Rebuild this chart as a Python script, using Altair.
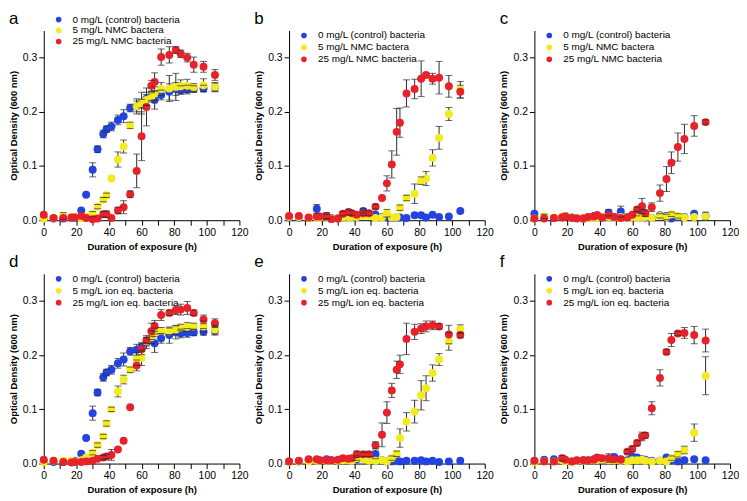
import altair as alt
import pandas as pd

# ---------------- data ----------------
hours = [0, 6, 12, 17, 19, 23, 26, 30, 33, 36.5, 38.5, 41.5, 45.5, 49, 53, 57,
         60, 63, 66, 68, 72, 77, 81, 84, 88, 92, 98, 105]

labels_nmc = ["0 mg/L (control) bacteria", "5 mg/L NMC bactera", "25 mg/L NMC bacteria"]
labels_ion = ["0 mg/L (control) bacteria", "5 mg/L ion eq. bacteria", "25 mg/L ion eq. bacteria"]
colors = ["#2343e0", "#f3ea1f", "#e8222a"]
panel_letters = ["a", "b", "c", "d", "e", "f"]

# panel a
a_ctrl = [0.004, 0.003, 0.003, 0.004, 0.005, 0.018, 0.047, 0.093, 0.131, 0.159, 0.168, 0.173, 0.185, 0.192, 0.207, 0.210, 0.215, 0.224, 0.228, 0.222, 0.231, 0.237, 0.242, 0.240, 0.241, 0.242, 0.243, 0.245]
a_ctrl_err = [0.002, 0.002, 0.002, 0.002, 0.002, 0.003, 0.003, 0.013, 0.006, 0.007, 0.006, 0.008, 0.009, 0.012, 0.007, 0.010, 0.008, 0.012, 0.007, 0.017, 0.009, 0.015, 0.012, 0.008, 0.008, 0.006, 0.006, 0.008]
a_low = [0.003, 0.004, 0.008, 0.005, 0.006, 0.004, 0.006, 0.011, 0.025, 0.038, 0.046, 0.077, 0.112, 0.136, 0.175, 0.210, 0.216, 0.222, 0.228, 0.234, 0.242, 0.243, 0.246, 0.247, 0.248, 0.245, 0.249, 0.246]
a_low_err = [0.002, 0.002, 0.006, 0.003, 0.003, 0.003, 0.003, 0.005, 0.004, 0.004, 0.004, 0.003, 0.014, 0.012, 0.006, 0.014, 0.020, 0.010, 0.010, 0.012, 0.012, 0.024, 0.025, 0.012, 0.012, 0.007, 0.012, 0.008]
a_high = [0.010, 0.004, 0.004, 0.005, 0.005, 0.008, 0.004, 0.002, 0.003, 0.011, 0.011, 0.004, 0.018, 0.024, 0.048, 0.091, 0.155, 0.209, 0.248, 0.255, 0.301, 0.305, 0.314, 0.307, 0.300, 0.287, 0.283, 0.268]
a_high_err = [0.002, 0.002, 0.002, 0.002, 0.003, 0.003, 0.002, 0.002, 0.002, 0.005, 0.006, 0.003, 0.006, 0.012, 0.006, 0.031, 0.045, 0.035, 0.010, 0.017, 0.015, 0.015, 0.006, 0.007, 0.008, 0.014, 0.010, 0.010]

# panel b
b_ctrl = [0.005, 0.005, 0.004, 0.021, 0.006, 0.008, 0.004, 0.003, 0.005, 0.008, 0.008, 0.006, 0.017, 0.012, 0.010, 0.006, 0.005, 0.004, 0.005, 0.005, 0.004, 0.009, 0.009, 0.005, 0.010, 0.006, 0.007, 0.017]
b_ctrl_err = [0.003, 0.003, 0.003, 0.008, 0.003, 0.006, 0.002, 0.002, 0.003, 0.003, 0.003, 0.003, 0.004, 0.003, 0.003, 0.002, 0.002, 0.002, 0.002, 0.002, 0.002, 0.003, 0.003, 0.002, 0.003, 0.002, 0.002, 0.003]
b_low = [0.006, 0.006, 0.004, 0.005, 0.005, 0.006, 0.003, 0.003, 0.005, 0.006, 0.006, 0.006, 0.008, 0.008, 0.004, 0.005, 0.013, 0.005, 0.006, 0.023, 0.041, 0.049, 0.073, 0.077, 0.115, 0.152, 0.196, 0.241]
b_low_err = [0.003, 0.003, 0.003, 0.003, 0.003, 0.003, 0.002, 0.002, 0.003, 0.003, 0.003, 0.003, 0.003, 0.003, 0.002, 0.003, 0.007, 0.003, 0.003, 0.005, 0.005, 0.018, 0.007, 0.013, 0.015, 0.021, 0.012, 0.015]
b_high = [0.008, 0.008, 0.005, 0.007, 0.007, 0.007, 0.002, 0.003, 0.012, 0.015, 0.013, 0.010, 0.013, 0.013, 0.025, 0.041, 0.068, 0.103, 0.163, 0.180, 0.234, 0.242, 0.261, 0.268, 0.261, 0.263, 0.247, 0.237]
b_high_err = [0.003, 0.003, 0.003, 0.003, 0.003, 0.004, 0.002, 0.002, 0.004, 0.005, 0.004, 0.003, 0.004, 0.004, 0.004, 0.003, 0.014, 0.025, 0.043, 0.027, 0.025, 0.018, 0.033, 0.003, 0.010, 0.030, 0.020, 0.012]

# panel c
c_ctrl = [0.012, 0.005, 0.004, 0.006, 0.008, 0.005, 0.004, 0.003, 0.005, 0.008, 0.009, 0.005, 0.014, 0.006, 0.016, 0.006, 0.008, 0.012, 0.016, 0.005, 0.004, 0.009, 0.008, 0.003, 0.006, 0.006, 0.012, 0.008]
c_ctrl_err = [0.002, 0.003, 0.002, 0.003, 0.003, 0.002, 0.002, 0.002, 0.003, 0.003, 0.003, 0.003, 0.006, 0.003, 0.010, 0.003, 0.003, 0.004, 0.004, 0.003, 0.003, 0.003, 0.003, 0.002, 0.003, 0.003, 0.003, 0.003]
c_low = [0.003, 0.007, 0.005, 0.006, 0.008, 0.004, 0.004, 0.003, 0.004, 0.005, 0.005, 0.006, 0.006, 0.005, 0.006, 0.005, 0.006, 0.005, 0.006, 0.006, 0.004, 0.008, 0.006, 0.011, 0.008, 0.005, 0.006, 0.007]
c_low_err = [0.002, 0.004, 0.003, 0.003, 0.003, 0.003, 0.002, 0.002, 0.003, 0.003, 0.003, 0.003, 0.003, 0.003, 0.003, 0.003, 0.003, 0.003, 0.003, 0.003, 0.003, 0.004, 0.005, 0.004, 0.004, 0.003, 0.003, 0.008]
c_high = [0.003, 0.003, 0.004, 0.005, 0.007, 0.004, 0.003, 0.003, 0.006, 0.007, 0.009, 0.005, 0.009, 0.006, 0.004, 0.005, 0.010, 0.020, 0.026, 0.013, 0.024, 0.050, 0.076, 0.106, 0.135, 0.150, 0.174, 0.181]
c_high_err = [0.002, 0.002, 0.002, 0.002, 0.003, 0.002, 0.002, 0.002, 0.003, 0.003, 0.003, 0.003, 0.003, 0.003, 0.002, 0.003, 0.003, 0.004, 0.014, 0.006, 0.008, 0.015, 0.023, 0.020, 0.026, 0.027, 0.019, 0.004]

# panel d (control is the same series as in panel a)
d_ctrl = a_ctrl
d_ctrl_err = a_ctrl_err
d_low = [0.003, 0.005, 0.005, 0.005, 0.004, 0.006, 0.011, 0.020, 0.034, 0.050, 0.074, 0.100, 0.133, 0.155, 0.173, 0.193, 0.195, 0.225, 0.233, 0.242, 0.245, 0.244, 0.247, 0.251, 0.252, 0.253, 0.253, 0.247]
d_low_err = [0.002, 0.002, 0.002, 0.002, 0.002, 0.002, 0.003, 0.004, 0.004, 0.004, 0.005, 0.004, 0.010, 0.008, 0.005, 0.012, 0.014, 0.008, 0.012, 0.008, 0.006, 0.006, 0.008, 0.006, 0.008, 0.006, 0.010, 0.008]
d_high = [0.007, 0.005, 0.003, 0.002, 0.003, 0.003, 0.004, 0.005, 0.009, 0.011, 0.013, 0.016, 0.026, 0.042, 0.104, 0.181, 0.211, 0.227, 0.244, 0.254, 0.274, 0.278, 0.283, 0.284, 0.287, 0.278, 0.266, 0.259]
d_high_err = [0.002, 0.002, 0.002, 0.002, 0.002, 0.002, 0.002, 0.003, 0.003, 0.004, 0.004, 0.010, 0.003, 0.003, 0.003, 0.010, 0.010, 0.005, 0.015, 0.010, 0.010, 0.005, 0.008, 0.010, 0.012, 0.005, 0.008, 0.008]

# panel e
e_ctrl = [0.004, 0.004, 0.006, 0.006, 0.005, 0.008, 0.006, 0.005, 0.007, 0.007, 0.006, 0.008, 0.010, 0.012, 0.017, 0.006, 0.004, 0.004, 0.005, 0.004, 0.005, 0.005, 0.006, 0.004, 0.005, 0.003, 0.004, 0.005]
e_ctrl_err = [0.002, 0.002, 0.003, 0.003, 0.002, 0.003, 0.002, 0.002, 0.003, 0.003, 0.003, 0.003, 0.003, 0.003, 0.008, 0.002, 0.002, 0.002, 0.002, 0.002, 0.002, 0.002, 0.002, 0.002, 0.002, 0.002, 0.002, 0.002]
e_low = [0.003, 0.004, 0.004, 0.005, 0.005, 0.005, 0.005, 0.005, 0.006, 0.006, 0.005, 0.010, 0.008, 0.005, 0.005, 0.006, 0.004, 0.010, 0.018, 0.047, 0.077, 0.096, 0.126, 0.139, 0.167, 0.192, 0.225, 0.248]
e_low_err = [0.002, 0.002, 0.002, 0.003, 0.003, 0.003, 0.002, 0.002, 0.003, 0.003, 0.003, 0.004, 0.003, 0.003, 0.003, 0.003, 0.003, 0.004, 0.005, 0.017, 0.017, 0.021, 0.027, 0.023, 0.015, 0.011, 0.016, 0.008]
e_high = [0.004, 0.005, 0.008, 0.008, 0.006, 0.006, 0.006, 0.007, 0.010, 0.009, 0.010, 0.017, 0.017, 0.017, 0.034, 0.053, 0.094, 0.135, 0.173, 0.183, 0.230, 0.243, 0.249, 0.253, 0.255, 0.253, 0.238, 0.237]
e_high_err = [0.002, 0.002, 0.002, 0.003, 0.003, 0.003, 0.003, 0.003, 0.003, 0.003, 0.003, 0.006, 0.004, 0.004, 0.006, 0.022, 0.020, 0.013, 0.016, 0.017, 0.029, 0.014, 0.009, 0.010, 0.008, 0.005, 0.017, 0.005]

# panel f
f_ctrl = [0.004, 0.007, 0.008, 0.006, 0.005, 0.004, 0.005, 0.006, 0.006, 0.008, 0.010, 0.009, 0.008, 0.012, 0.008, 0.006, 0.013, 0.011, 0.008, 0.007, 0.005, 0.005, 0.011, 0.006, 0.004, 0.006, 0.008, 0.006]
f_ctrl_err = [0.002, 0.002, 0.002, 0.002, 0.002, 0.002, 0.002, 0.002, 0.002, 0.003, 0.003, 0.003, 0.003, 0.003, 0.003, 0.002, 0.002, 0.002, 0.002, 0.002, 0.002, 0.002, 0.002, 0.002, 0.002, 0.002, 0.002, 0.002]
f_low = [0.003, 0.004, 0.004, 0.006, 0.004, 0.004, 0.005, 0.005, 0.006, 0.006, 0.007, 0.008, 0.006, 0.006, 0.005, 0.004, 0.006, 0.006, 0.007, 0.005, 0.004, 0.005, 0.004, 0.010, 0.017, 0.025, 0.057, 0.162]
f_low_err = [0.002, 0.002, 0.002, 0.003, 0.002, 0.002, 0.002, 0.002, 0.003, 0.003, 0.003, 0.003, 0.003, 0.003, 0.003, 0.002, 0.003, 0.003, 0.003, 0.003, 0.002, 0.002, 0.002, 0.004, 0.005, 0.007, 0.016, 0.035]
f_high = [0.005, 0.004, 0.004, 0.010, 0.007, 0.004, 0.006, 0.006, 0.006, 0.007, 0.011, 0.010, 0.010, 0.008, 0.007, 0.022, 0.027, 0.038, 0.050, 0.052, 0.102, 0.158, 0.206, 0.228, 0.240, 0.241, 0.237, 0.227]
f_high_err = [0.002, 0.002, 0.002, 0.005, 0.003, 0.002, 0.003, 0.003, 0.003, 0.003, 0.003, 0.003, 0.008, 0.003, 0.003, 0.004, 0.005, 0.005, 0.008, 0.005, 0.012, 0.015, 0.004, 0.012, 0.004, 0.010, 0.016, 0.021]

FONT = "Liberation Sans"
BAR = "#2b2b2b"
W, H = 197, 191


def panel(letter, labels, series, legend_y, row_pad):
    rows = []
    for k, (vals, errs) in enumerate(series):
        for t, v, e in zip(hours, vals, errs):
            rows.append({"t": t, "od": v, "err": e, "lo": max(0.0, v - e), "hi": v + e,
                         "group": labels[k], "k": k})
    df = pd.DataFrame(rows)

    xscale = alt.Scale(domain=[0, 120], nice=False)
    yscale = alt.Scale(domain=[0, 0.35], nice=False)
    xaxis = alt.Axis(title="Duration of exposure (h)", values=list(range(0, 121, 10)),
                     labelExpr="datum.value % 20 === 0 ? datum.label : ''",
                     labelFlush=False)
    yaxis = alt.Axis(title="Optical Density (600 nm)", values=[0, 0.1, 0.2, 0.3],
                     format=".1f")

    def X():
        return alt.X("t:Q", scale=xscale, axis=xaxis)

    base = alt.Chart(df)
    bars = base.mark_rule(color=BAR, strokeWidth=1).encode(
        x=X(), y=alt.Y("lo:Q", scale=yscale, axis=yaxis), y2="hi:Q")
    points = base.mark_circle(size=64, opacity=1).encode(
        x=X(),
        y=alt.Y("od:Q", scale=yscale, axis=yaxis),
        color=alt.Color("group:N", scale=alt.Scale(domain=labels, range=colors),
                        legend=alt.Legend(title=None, orient="none", legendX=10,
                                          legendY=legend_y, padding=0,
                                          symbolType="circle", symbolSize=32,
                                          symbolStrokeWidth=0, labelFont=FONT,
                                          labelFontSize=10, labelColor="black",
                                          labelOffset=9, rowPadding=row_pad,
                                          labelLimit=300)),
        order=alt.Order("k:Q"),
    )
    caps = base.transform_filter("datum.err >= 0.004")
    cap_lo = caps.mark_tick(orient="horizontal", size=7, thickness=1, color=BAR).encode(
        x=X(), y=alt.Y("lo:Q", scale=yscale, axis=yaxis))
    cap_hi = caps.mark_tick(orient="horizontal", size=7, thickness=1, color=BAR).encode(
        x=X(), y=alt.Y("hi:Q", scale=yscale, axis=yaxis))
    tag = alt.Chart(pd.DataFrame({"letter": [letter]})).mark_text(
        font=FONT, fontSize=17, align="left", baseline="alphabetic", color="black"
    ).encode(x=alt.value(-35), y=alt.value(-7), text="letter:N")

    return alt.layer(bars, points, cap_lo, cap_hi, tag).properties(width=W, height=H)


pa = panel(panel_letters[0], labels_nmc, [(a_ctrl, a_ctrl_err), (a_low, a_low_err), (a_high, a_high_err)], -16, 1)
pb = panel(panel_letters[1], labels_nmc, [(b_ctrl, b_ctrl_err), (b_low, b_low_err), (b_high, b_high_err)], 0, 2)
pc = panel(panel_letters[2], labels_nmc, [(c_ctrl, c_ctrl_err), (c_low, c_low_err), (c_high, c_high_err)], 0, 2)
pd_ = panel(panel_letters[3], labels_ion, [(d_ctrl, d_ctrl_err), (d_low, d_low_err), (d_high, d_high_err)], 0, 2)
pe = panel(panel_letters[4], labels_ion, [(e_ctrl, e_ctrl_err), (e_low, e_low_err), (e_high, e_high_err)], 0, 2)
pf = panel(panel_letters[5], labels_ion, [(f_ctrl, f_ctrl_err), (f_low, f_low_err), (f_high, f_high_err)], 0, 2)

chart = alt.concat(
    pa, pb, pc, pd_, pe, pf, columns=3,
    spacing={"row": 54, "column": 50}, bounds="flush",
).resolve_scale(color="independent").resolve_legend(color="independent").properties(
    padding=0, background="white"
).configure_axis(
    labelFont=FONT, labelFontSize=10.5, labelColor="black",
    titleFont=FONT, titleFontSize=9.5, titleFontWeight="bold", titleColor="black",
    domainColor="black", tickColor="black", tickSize=5, grid=False,
    labelPadding=2, titlePadding=4,
).configure_view(stroke=None)

chart.save("out.html", embed_options={"renderer": "svg", "actions": False})
